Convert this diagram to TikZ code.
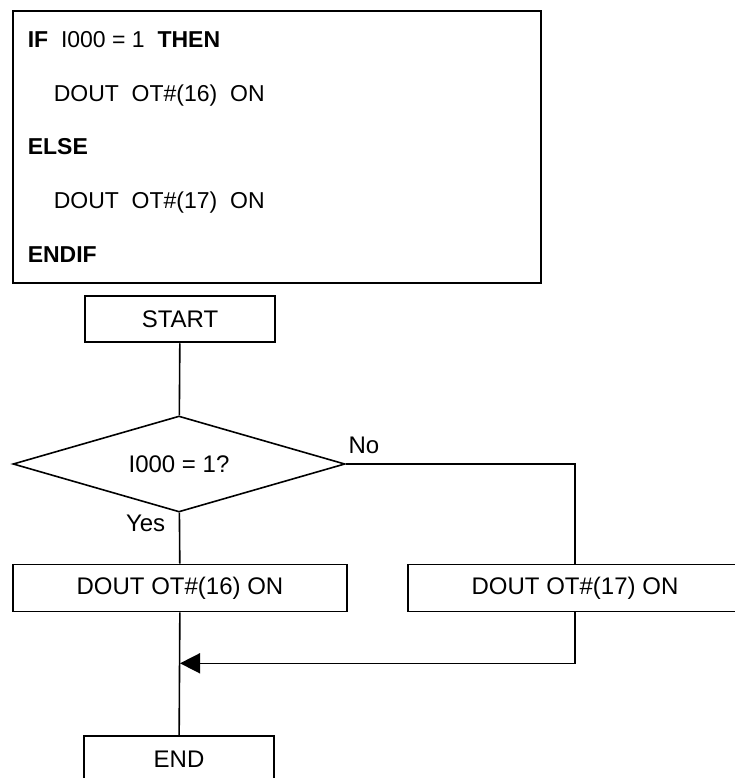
\documentclass[tikz,border=0pt]{standalone}
\usepackage{fontspec}
\setmainfont{Liberation Sans}
\usetikzlibrary{shapes.geometric,arrows.meta,positioning,calc}

\begin{document}
\begin{tikzpicture}[x=1pt,y=-1pt,>={Triangle[length=20pt,width=20pt]},line width=1.6pt,
  font=\fontsize{24}{28}\selectfont,
  box/.style={draw,rectangle,minimum width=334pt,minimum height=47pt,inner sep=0pt},
  term/.style={draw,rectangle,line width=2.5pt,minimum width=190pt,minimum height=46pt,inner sep=0pt},
  cond/.style={draw,diamond,aspect=3.46,minimum width=332pt,minimum height=96pt,inner sep=0pt},
  codeline/.style={anchor=base west,inner sep=0pt,font=\fontsize{23}{27}\selectfont}]
  \useasboundingbox (0,0) rectangle (734,778);
  % --- program listing ---
  \node[draw,line width=2pt,minimum width=528pt,minimum height=272pt,inner sep=0pt] (code) at (277,147) {};
  \node[codeline] (ifline)    at (27,48)  {\textbf{IF}~~I000 = 1~~\textbf{THEN}};
  \node[codeline] (thenline)  at (53,102) {DOUT~~OT\#(16)~~ON};
  \node[codeline] (elseline)  at (27,155) {\textbf{ELSE}};
  \node[codeline] (elsebody)  at (53,208) {DOUT~~OT\#(17)~~ON};
  \node[codeline] (endifline) at (27,262) {\textbf{ENDIF}};
  % --- flowchart ---
  \node[term] (start)  at (180,319) {START};
  \node[cond] (test)   at (179,464) {I000 = 1?};
  \node[box]  (dout16) at (180,588) {DOUT OT\#(16) ON};
  \node[box]  (dout17) at (575,588) {DOUT OT\#(17) ON};
  \node[term] (stop)   at (179,759) {END};
  \coordinate (merge) at ([yshift=-51pt]dout16.south);   % where the else branch rejoins
  % connectors
  \draw (start) -- (test);
  \draw (test) -- (dout16);
  \draw (test.east) -| (dout17.north);
  \draw (dout16) -- (stop);
  \draw[->] (dout17.south) |- (merge);
  % labels
  \node[anchor=base west,inner sep=0pt] (nolabel)  at ([xshift=2pt,yshift=11pt]test.east)   {No};
  \node[anchor=north east,inner sep=0pt] (yeslabel) at ([xshift=-13pt,yshift=-1pt]test.south) {Yes};
\end{tikzpicture}
\end{document}
